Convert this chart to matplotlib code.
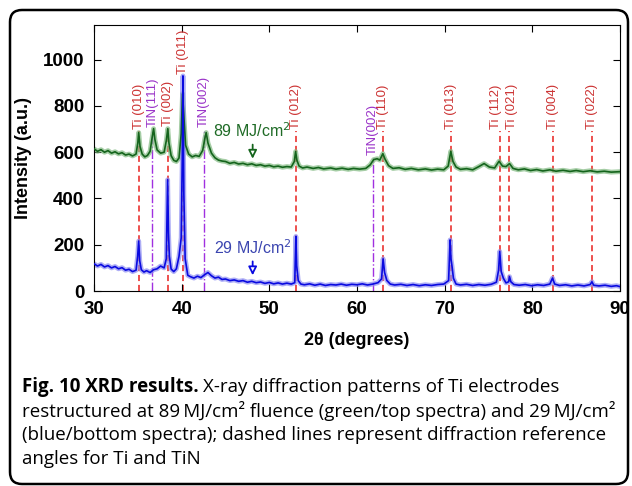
import numpy as np
import matplotlib.pyplot as plt
from matplotlib.patches import FancyBboxPatch

# green spectrum (89 MJ/cm2)
green_x = [30.0, 30.4, 30.8, 31.2, 31.6, 32.0, 32.4, 32.8, 33.2, 33.6, 34.0, 34.4, 34.8, 35.0,
           35.1, 35.25, 35.5, 35.8, 36.1, 36.4, 36.6, 36.8, 36.95, 37.2, 37.6, 38.0, 38.25, 38.42,
           38.55, 38.8, 39.1, 39.4, 39.7, 39.95, 40.1, 40.25, 40.45, 40.8, 41.2, 41.6, 42.0, 42.4,
           42.65, 42.8, 43.0, 43.4, 43.8, 44.2, 44.6, 45.0, 45.5, 46.0, 46.5, 47.0, 47.5, 48.0,
           48.5, 49.0, 49.5, 50.0, 50.5, 51.0, 51.5, 52.0, 52.5, 52.85, 53.0, 53.15, 53.4, 53.8,
           54.3, 55.0, 55.6, 56.2, 57.0, 57.6, 58.3, 59.0, 59.6, 60.3, 61.0, 61.5, 61.9, 62.3,
           62.6, 62.95, 63.2, 63.6, 64.1, 64.8, 65.5, 66.2, 67.0, 67.8, 68.5, 69.2, 69.9, 70.4,
           70.7, 70.95, 71.3, 71.8, 72.5, 73.2, 73.9, 74.5, 75.1, 75.7, 76.2, 76.6, 77.0, 77.4,
           77.8, 78.4, 79.1, 79.8, 80.5, 81.2, 82.0, 82.7, 83.5, 84.3, 85.0, 85.8, 86.6, 87.4,
           88.2, 89.0, 90.0]
green_y = [615, 604, 611, 600, 607, 596, 602, 593, 598, 588, 592, 584, 592, 640,
           685, 625, 592, 580, 586, 604, 655, 702, 655, 610, 596, 600, 650, 702,
           640, 585, 565, 560, 575, 680, 853, 760, 630, 592, 580, 586, 582, 608,
           660, 685, 640, 596, 576, 566, 562, 560, 552, 556, 549, 552, 546, 550,
           543, 546, 540, 543, 537, 540, 535, 538, 536, 560, 603, 565, 540, 532,
           536, 530, 534, 528, 532, 527, 531, 526, 530, 527, 530, 545, 568, 572,
           566, 594, 570, 542, 530, 533, 526, 530, 524, 528, 523, 527, 524, 540,
           604, 560, 536, 526, 529, 524, 538, 551, 536, 532, 561, 540, 538, 551,
           530, 524, 528, 521, 525, 519, 524, 518, 522, 517, 521, 516, 520, 515,
           518, 514, 516]

# blue spectrum (29 MJ/cm2)
blue_x = [30.0, 30.4, 30.8, 31.2, 31.6, 32.0, 32.4, 32.8, 33.2, 33.6, 34.0, 34.4, 34.8, 34.98,
          35.1, 35.22, 35.4, 35.7, 36.0, 36.4, 36.8, 37.2, 37.6, 38.0, 38.25, 38.4, 38.5, 38.6,
          38.8, 39.1, 39.4, 39.7, 39.95, 40.08, 40.15, 40.25, 40.4, 40.7, 41.0, 41.4, 41.8, 42.2,
          42.6, 43.0, 43.4, 43.8, 44.2, 44.6, 45.0, 45.5, 46.0, 46.5, 47.0, 47.5, 48.0, 48.5,
          49.0, 49.5, 50.0, 50.5, 51.0, 51.5, 52.0, 52.5, 52.9, 53.03, 53.12, 53.3, 53.6, 54.0,
          54.6, 55.2, 55.8, 56.4, 57.0, 57.6, 58.2, 58.8, 59.4, 60.0, 60.6, 61.2, 61.8, 62.4,
          62.8, 62.98, 63.15, 63.4, 63.8, 64.3, 65.0, 65.7, 66.4, 67.1, 67.8, 68.5, 69.2, 69.9,
          70.45, 70.62, 70.72, 70.85, 71.0, 71.3, 71.8, 72.5, 73.2, 73.9, 74.6, 75.3, 75.9, 76.15,
          76.28, 76.45, 76.7, 77.0, 77.3, 77.4, 77.55, 77.9, 78.5, 79.2, 79.9, 80.6, 81.3, 82.0,
          82.3, 82.55, 83.1, 83.8, 84.5, 85.2, 85.9, 86.6, 86.8, 87.0, 87.6, 88.3, 89.0, 89.6,
          90.0]
blue_y = [118, 108, 115, 104, 110, 100, 106, 96, 101, 90, 94, 84, 90, 150,
          216, 130, 92, 82, 88, 80, 92, 96, 108, 100, 140, 481, 250, 150,
          95, 84, 96, 150, 230, 600, 930, 420, 140, 68, 62, 56, 64, 58,
          70, 80, 66, 56, 60, 50, 52, 45, 48, 42, 45, 38, 42, 36,
          39, 33, 37, 31, 35, 30, 34, 30, 36, 236, 110, 45, 30, 27,
          31, 25, 30, 24, 28, 26, 30, 25, 29, 27, 31, 26, 30, 36,
          52, 139, 80, 46, 30, 26, 29, 24, 28, 23, 27, 24, 28, 30,
          45, 221, 140, 104, 55, 30, 26, 29, 24, 28, 25, 29, 38, 90,
          171, 84, 55, 35, 40, 62, 40, 28, 25, 28, 23, 27, 24, 30,
          56, 30, 24, 27, 22, 26, 22, 28, 40, 25, 22, 25, 20, 23,
          19]

# reference angles
ti_pos = [35.1, 38.44, 40.15, 53.08, 62.97, 70.72, 76.3, 77.37, 82.4, 86.8]
ti_top = [690, 700, 925, 690, 690, 690, 690, 690, 690, 690]
ti_lab = ['Ti (010)', 'Ti (002)', 'Ti (011)', 'Ti (012)', 'Ti (110)', 'Ti (013)',
          'Ti (112)', 'Ti (021)', 'Ti (004)', 'Ti (022)']
ti_shift = [0, 0, 0, 0, 0, 0, -0.4, 0.3, 0, 0]
tin_pos = [36.65, 42.55, 61.78]
tin_top = [698, 695, 577]
tin_lab = ['TiN(111)', 'TiN(002)', 'TiN(002)']

plt.rcParams['font.family'] = ['Liberation Sans', 'DejaVu Sans']

fig = plt.figure(figsize=(6.32, 4.86), dpi=100)
ax = fig.add_axes([0.1487, 0.4012, 0.8323, 0.5473])

for x, t, l, s in zip(ti_pos, ti_top, ti_lab, ti_shift):
    ax.plot([x, x], [0, t], color='#e8201e', ls=(0, (4, 2.5)), lw=1.1, zorder=1)
    ax.text(x + s, t + 12, l, rotation=90, ha='center', va='bottom', fontsize=9.5,
            color='#cc3333')
for x, t, l in zip(tin_pos, tin_top, tin_lab):
    ax.plot([x, x], [0, t], color='#a030e0', ls='-.', lw=1.0, zorder=1)
    ax.text(x, t + 12, l, rotation=90, ha='center', va='bottom', fontsize=9.5, color='#9a33c8')

# light halo + dark line
ax.plot(green_x, green_y, color='#7fb87f', lw=3.5, alpha=0.7, zorder=2)
ax.plot(green_x, green_y, color='#14641c', lw=1.2, zorder=3)
ax.plot(blue_x, blue_y, color='#8c8cf2', lw=3.5, alpha=0.7, zorder=2)
ax.plot(blue_x, blue_y, color='#0a0ae0', lw=1.2, zorder=3)

ax.text(43.6, 692, '89 MJ/cm$^2$', color='#1f6b26', fontsize=11.5, va='center', ha='left')
ax.annotate('', xy=(48.1, 560), xytext=(48.1, 645),
            arrowprops=dict(arrowstyle='-|>,head_width=0.25,head_length=0.5', fc='white',
                            ec='#14641c', lw=1.3))
ax.text(43.7, 188, '29 MJ/cm$^2$', color='#3b45b0', fontsize=11.5, va='center', ha='left')
ax.annotate('', xy=(48.1, 56), xytext=(48.1, 140),
            arrowprops=dict(arrowstyle='-|>,head_width=0.25,head_length=0.5', fc='white',
                            ec='#0a0ae0', lw=1.3))

ax.set_xlim(30, 90)
ax.set_ylim(0, 1150)
ax.set_xticks(range(30, 91, 10))
ax.set_yticks(range(0, 1001, 200))
ax.tick_params(direction='in', top=True, right=True, length=5, labelsize=13.5, pad=7)
for lb in ax.get_xticklabels() + ax.get_yticklabels():
    lb.set_fontweight('bold')
ax.set_xlabel('2θ (degrees)', fontsize=13, fontweight='bold', labelpad=10)
ax.set_ylabel('Intensity (a.u.)', fontsize=13, fontweight='bold', labelpad=8)

# caption
cap_font = ['Open Sans', 'DejaVu Sans']
fs = 13.5
x0 = 22 / 632
t1 = fig.text(x0, 1 - 387 / 486, 'Fig. 10 XRD results.', fontsize=fs, fontweight='bold',
              family=cap_font, va='center')
fig.canvas.draw()
bb = t1.get_window_extent()
fig.text(bb.x1 / 632 + 0.006, 1 - 387 / 486, 'X-ray diffraction patterns of Ti electrodes',
         fontsize=fs, family=cap_font, va='center')
fig.text(x0, 1 - 411 / 486,
         'restructured at 89\u2009MJ/cm\u00b2 fluence (green/top spectra) and 29\u2009MJ/cm\u00b2',
         fontsize=fs, family=cap_font, va='center')
fig.text(x0, 1 - 435 / 486, '(blue/bottom spectra); dashed lines represent diffraction reference',
         fontsize=fs, family=cap_font, va='center')
fig.text(x0, 1 - 459 / 486, 'angles for Ti and TiN', fontsize=fs, family=cap_font, va='center')

box = FancyBboxPatch((0.10, 0.02), 6.18, 4.74, boxstyle='round,pad=0,rounding_size=0.12',
                     transform=fig.dpi_scale_trans, fc='none', ec='black', lw=1.8)
fig.patches.append(box)

plt.savefig('out.png', dpi=100)
